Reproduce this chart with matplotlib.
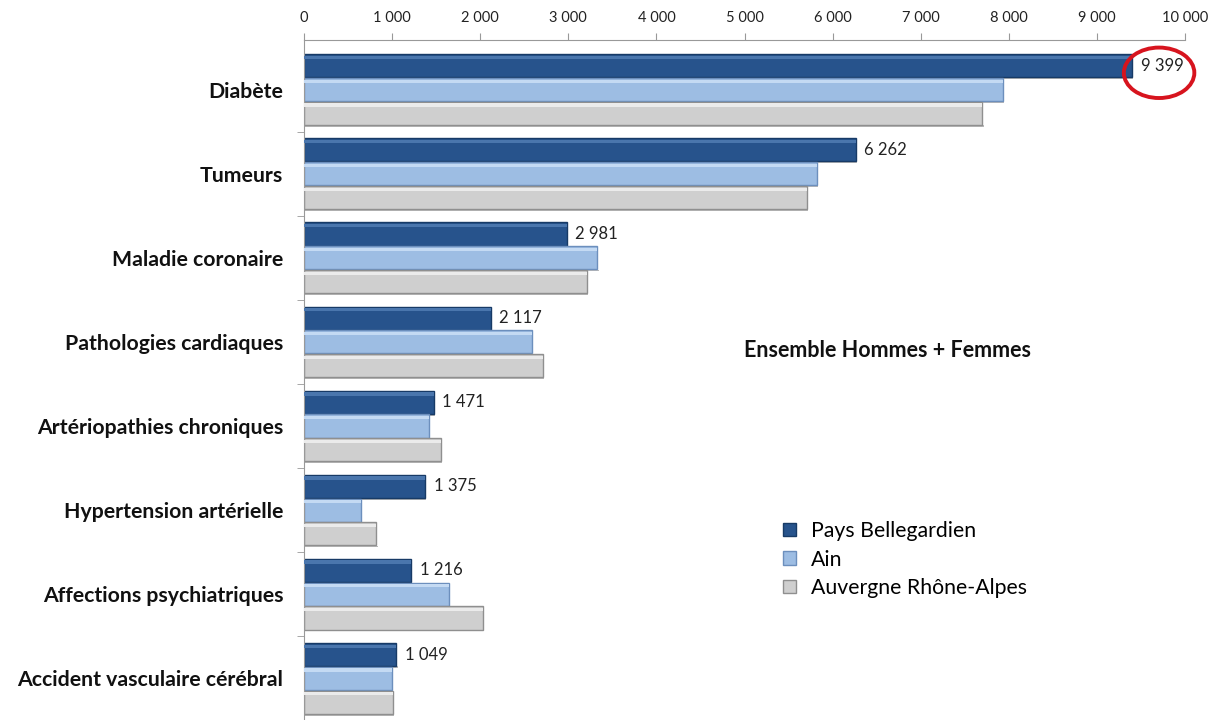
import numpy as np
import matplotlib
matplotlib.use('Agg')
import matplotlib.pyplot as plt
from matplotlib.patches import Ellipse
from matplotlib.ticker import FuncFormatter

plt.rcParams['font.family'] = ['Lato', 'DejaVu Sans']

categories = ['Diabète', 'Tumeurs', 'Maladie coronaire', 'Pathologies cardiaques',
              'Artériopathies chroniques', 'Hypertension artérielle',
              'Affections psychiatriques', 'Accident vasculaire cérébral']
pays_bellegardien = [9399, 6262, 2981, 2117, 1471, 1375, 1216, 1049]
ain = [7930, 5820, 3330, 2590, 1420, 650, 1650, 1000]
auvergne_ra = [7700, 5710, 3210, 2710, 1550, 820, 2030, 1010]

series = [('Pays Bellegardien', pays_bellegardien, '#27538c', '#173a66', '#4a76ad'),
          ('Ain', ain, '#9dbde3', '#6c8fbd', '#c4daf3'),
          ('Auvergne Rhône-Alpes', auvergne_ra, '#cfcfcf', '#8f8f8f', '#ebebeb')]


def fmt_fr(v, pos=None):
    return '{:,.0f}'.format(v).replace(',', ' ')


fig = plt.figure(figsize=(12.08, 7.20), dpi=100)
x0, x1 = 304, 1185
ax = fig.add_axes([x0 / 1208, -7.5 / 720, (x1 - x0) / 1208, 687.5 / 720])

y = np.arange(len(categories))
h = 0.275
for k, (name, vals, col, edge, light) in enumerate(series):
    pos = y + (k - 1) * 0.283
    ax.barh(pos, vals, height=h, color=col, edgecolor=edge, linewidth=1.0, label=name, zorder=2)
    # lighter strip along the top of each bar for a bevelled look
    ax.barh(pos - h * 0.36, vals, height=h * 0.14, color=light, linewidth=0, zorder=3)
    # soft shadow under each bar
    ax.barh(pos + h * 0.5 + 0.012, vals, height=0.02, left=15, color='#b8b8b8', linewidth=0, zorder=1)

for i, v in enumerate(pays_bellegardien):
    ax.text(v + 100, y[i] - 0.283, fmt_fr(v), va='center', ha='left', fontsize=12, color='#222222')

ax.set_xlim(0, 10000)
ax.set_ylim(7.585, -0.59)
ax.xaxis.tick_top()
ax.set_xticks(np.arange(0, 10001, 1000))
ax.xaxis.set_major_formatter(FuncFormatter(fmt_fr))
ax.tick_params(axis='x', labelsize=10.5, colors='#999999', labelcolor='#222222', length=5, direction='out', pad=6)

ax.set_yticks(y)
ax.set_yticklabels(categories, fontsize=15.3, fontweight='bold', color='#111111')
ax.set_yticks(np.arange(0.5, len(categories) - 0.5), minor=True)
ax.tick_params(axis='y', which='major', length=0, pad=15)
ax.tick_params(axis='y', which='minor', length=5, color='#999999')

for s in ['right', 'bottom']:
    ax.spines[s].set_visible(False)
ax.spines['top'].set_color('#999999')
ax.spines['left'].set_color('#999999')

ax.add_patch(Ellipse((9706, -0.2), 800, 0.6, fill=False, edgecolor='#d7141e', linewidth=2.8,
                     clip_on=False, zorder=5))

fig.text(887 / 1208, 1 - 350 / 720, 'Ensemble Hommes + Femmes', ha='center', va='center',
         fontsize=15.5, fontweight='bold', color='#111111')

ax.legend(loc='upper left', bbox_to_anchor=((764 - x0) / (x1 - x0), 1 - (502 - 40) / 687.5),
          bbox_transform=ax.transAxes, frameon=False, fontsize=15.3, handlelength=0.6,
          handleheight=0.6, handletextpad=0.7, labelspacing=0.4)

fig.savefig('out.png', dpi=100)
